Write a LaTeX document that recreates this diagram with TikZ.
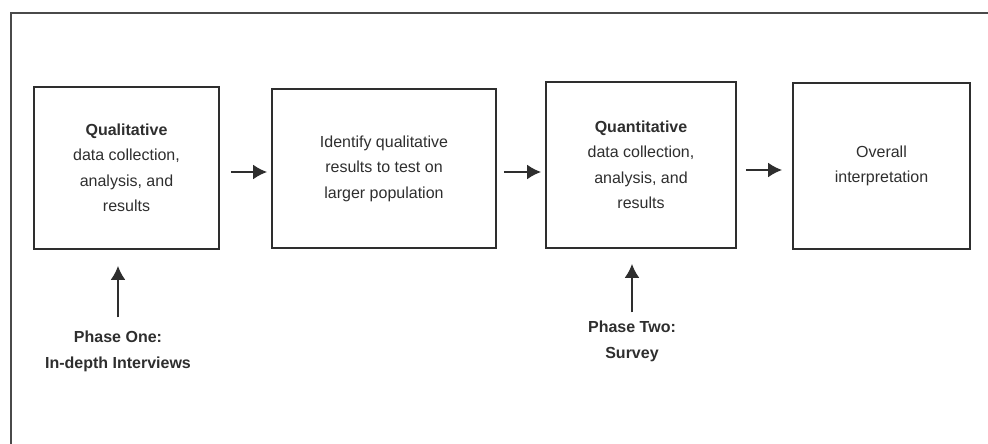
\documentclass[tikz,border=0pt]{standalone}
\usepackage{fontspec}
\setmainfont{Liberation Sans}
\usetikzlibrary{arrows.meta}
\definecolor{ink}{HTML}{2E2E2E}
\definecolor{frame}{HTML}{4A4A4A}
\begin{document}
\begin{tikzpicture}[x=1pt,y=-1pt,
  box/.style={draw=ink,line width=1.8pt,rectangle,inner sep=0pt,align=center,text=ink,
    font=\fontsize{16}{25.5}\selectfont},
  lbl/.style={align=center,text=ink,font=\fontsize{16}{26}\selectfont\bfseries,inner sep=0pt},
  arr/.style={draw=ink,line width=2pt,-{Latex[length=14pt,width=15pt]}}]
\useasboundingbox (0,0) rectangle (988,444);
\draw[frame,line width=1.8pt] (11,444) -- (11,13) -- (988,13);
\node[box,minimum width=185pt,minimum height=162pt] (b1) at (126.5,168)
  {\textbf{Qualitative}\\data collection,\\analysis, and\\results};
\node[box,minimum width=224pt,minimum height=159pt] (b2) at (384,168.5)
  {Identify qualitative\\results to test on\\larger population};
\node[box,minimum width=190pt,minimum height=166pt] (b3) at (641,165)
  {\textbf{Quantitative}\\data collection,\\analysis, and\\results};
\node[box,minimum width=177pt,minimum height=166pt] (b4) at (881.5,166)
  {Overall\\interpretation};
\draw[arr] ([xshift=11pt,yshift=-4pt]b1.east) -- ([xshift=-4pt,yshift=-3.5pt]b2.west);
\draw[arr] ([xshift=7pt,yshift=-3.5pt]b2.east) -- ([xshift=-4pt,yshift=-7pt]b3.west);
\draw[arr] ([xshift=9pt,yshift=-5pt]b3.east) -- ([xshift=-10pt,yshift=-4pt]b4.west);
\node[lbl] (p1) at (118,351) {Phase One:\\In-depth Interviews};
\node[lbl] (p2) at (632,341) {Phase Two:\\Survey};
\draw[arr,shorten >=16pt] ([yshift=13pt]p1.north) -- (p1.north |- b1.south);
\draw[arr,shorten >=15pt] ([yshift=8pt]p2.north) -- (p2.north |- b3.south);
\end{tikzpicture}
\end{document}
